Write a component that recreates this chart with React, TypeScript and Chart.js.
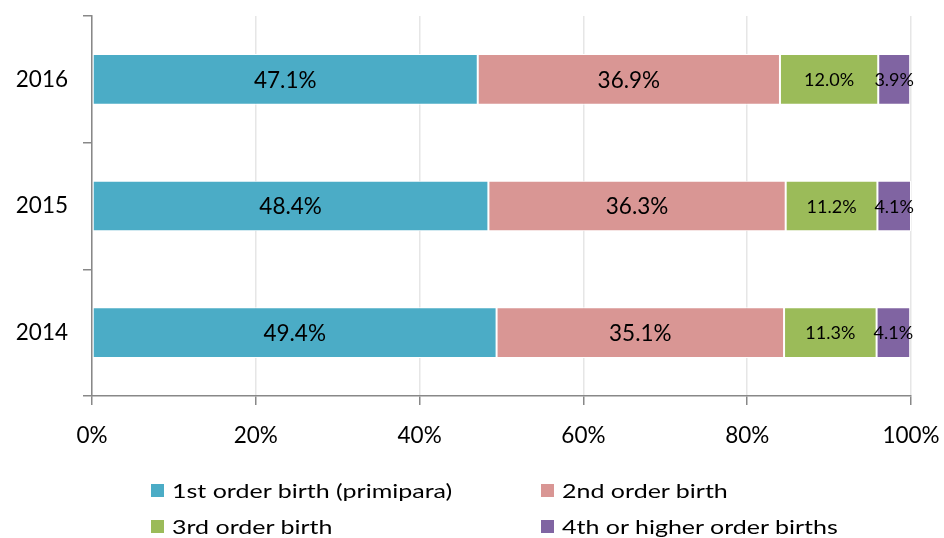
import React, { useEffect, useRef } from "react";
import { Chart, registerables } from "chart.js";

Chart.register(...registerables);

const categories = ["2016", "2015", "2014"];
const seriesNames = [
  "1st order birth (primipara)",
  "2nd order birth",
  "3rd order birth",
  "4th or higher order births",
];
const first = [47.1, 48.4, 49.4];
const second = [36.9, 36.3, 35.1];
const third = [12.0, 11.2, 11.3];
const fourth = [3.9, 4.1, 4.1];
const colors = ["#4BACC6", "#D99694", "#9BBB59", "#8064A2"];
const labelSizes = [22.5, 22.5, 18, 18];
const xTicks = [0, 20, 40, 60, 80, 100];

const FONT = "Lato, 'Open Sans', 'DejaVu Sans', sans-serif";

const labelPlugin = {
  id: "segLabels",
  afterDatasetsDraw(chart: any) {
    const ctx = chart.ctx;
    chart.data.datasets.forEach((ds: any, di: number) => {
      const meta = chart.getDatasetMeta(di);
      meta.data.forEach((bar: any, i: number) => {
        const v = ds.data[i];
        const cx = (bar.x + bar.base) / 2;
        ctx.save();
        ctx.font = `${labelSizes[di]}px ${FONT}`;
        ctx.fillStyle = "#000";
        ctx.textAlign = "center";
        ctx.textBaseline = "middle";
        ctx.fillText(v.toFixed(1) + "%", cx, bar.y + 1);
        ctx.restore();
      });
    });
  },
};

export default function App() {
  const ref = useRef<HTMLCanvasElement>(null);
  useEffect(() => {
    document.body.style.margin = "0";
    const seriesData = [first, second, third, fourth];
    const chart = new Chart(ref.current!, {
      type: "bar",
      data: {
        labels: categories,
        datasets: seriesData.map((d, i) => ({
          label: seriesNames[i],
          data: d,
          backgroundColor: colors[i],
          borderColor: "#ffffff",
          borderWidth: 1,
          borderSkipped: false,
          barPercentage: 0.4,
          categoryPercentage: 1,
        })),
      },
      options: {
        indexAxis: "y",
        animation: false,
        responsive: false,
        maintainAspectRatio: false,
        layout: { padding: { left: 0, right: 33, top: 16, bottom: 0 } },
        plugins: { legend: { display: false }, tooltip: { enabled: false } },
        scales: {
          x: {
            stacked: true,
            min: 0,
            max: 100,
            afterBuildTicks: (s: any) => {
              s.ticks = xTicks.map((v) => ({ value: v }));
            },
            afterFit: (s: any) => {
              s.height = 142;
              s.paddingLeft = 0;
              s.paddingRight = 0;
            },
            grid: {
              color: "#e6e6e6",
              lineWidth: 1.5,
              tickColor: "#888888",
              tickLength: 9,
            },
            border: { color: "#888888", width: 1.5 },
            ticks: {
              padding: 17,
              color: "#000",
              font: { size: 22.5, family: FONT },
              callback: (v: any) => v + "%",
            },
          },
          y: {
            stacked: true,
            afterFit: (s: any) => {
              s.width = 92;
              s.paddingTop = 0;
              s.paddingBottom = 0;
            },
            grid: {
              drawOnChartArea: false,
              tickColor: "#888888",
              tickLength: 9,
              lineWidth: 1.5,
            },
            border: { color: "#888888", width: 1.5 },
            ticks: {
              padding: 15,
              color: "#000",
              font: { size: 22.5, family: FONT },
            },
          },
        },
      },
      plugins: [labelPlugin],
    });
    return () => chart.destroy();
  }, []);

  const legendPos = [
    { left: 151, top: 490 },
    { left: 541, top: 490 },
    { left: 151, top: 526 },
    { left: 541, top: 526 },
  ];

  return (
    <div style={{ position: "relative", width: 944, height: 538, background: "#fff", overflow: "hidden" }}>
      <canvas ref={ref} width={944} height={538} style={{ position: "absolute", left: 0, top: 0 }} />
      {seriesNames.map((n, i) => (
        <div
          key={n}
          style={{
            position: "absolute",
            left: legendPos[i].left,
            top: legendPos[i].top - 14,
            height: 28,
            display: "flex",
            alignItems: "center",
            fontFamily: FONT,
            fontSize: 20,
            color: "#000",
            whiteSpace: "nowrap",
          }}
        >
          <span style={{ display: "inline-block", width: 13, height: 13, background: colors[i], marginRight: 8 }} />
          <span style={{ display: "inline-block", transform: "scaleX(1.25)", transformOrigin: "left center" }}>{n}</span>
        </div>
      ))}
    </div>
  );
}
